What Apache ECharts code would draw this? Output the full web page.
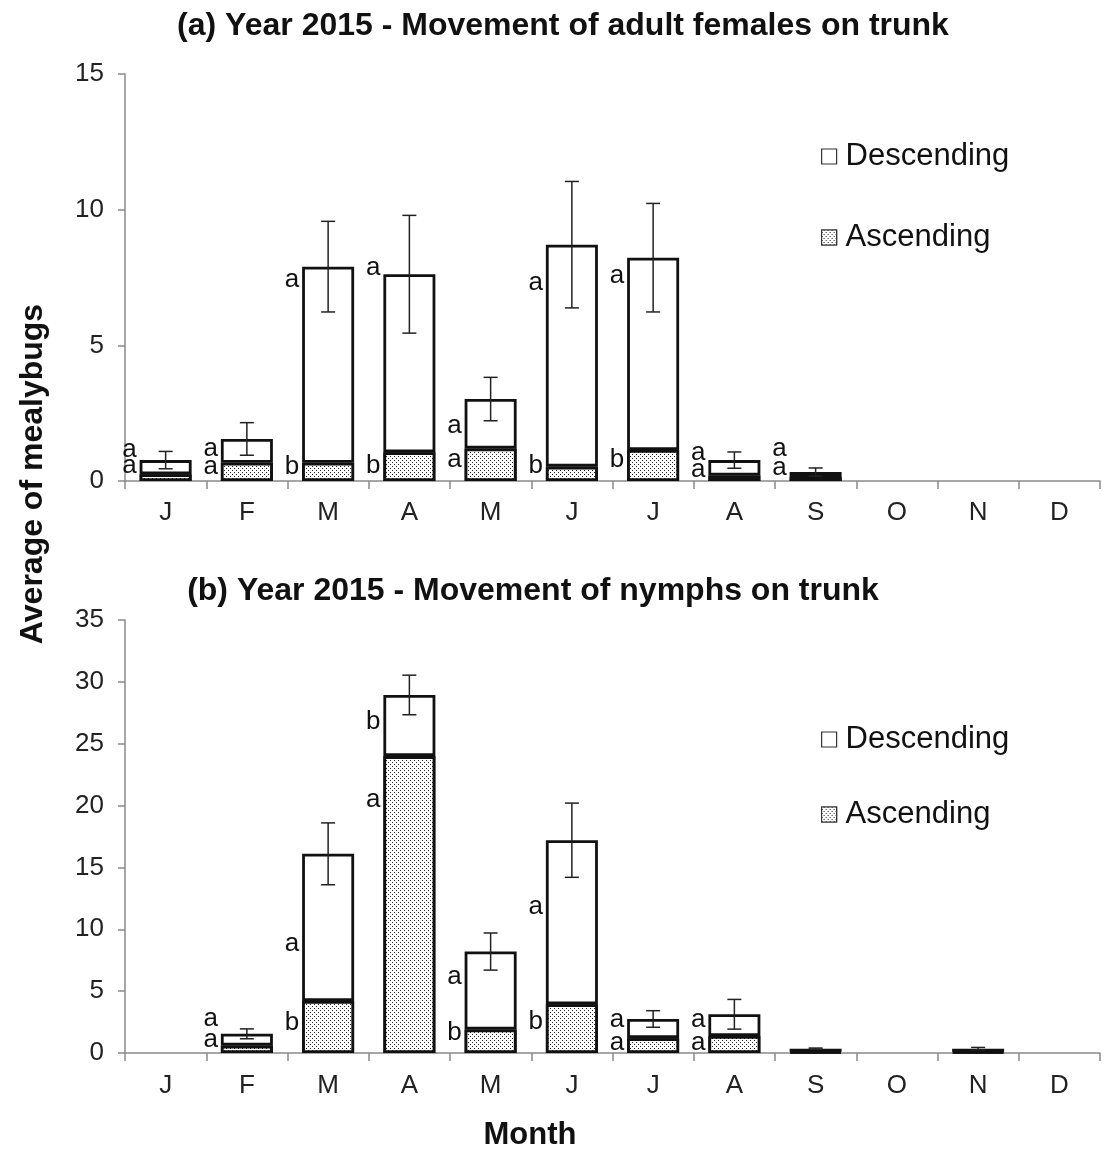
<!DOCTYPE html>
<html>
<head>
<meta charset="utf-8">
<script src="https://cdn.jsdelivr.net/npm/echarts@6/dist/echarts.min.js"></script>
<style>html,body{margin:0;padding:0;background:#fff;}#c{width:1105px;height:1153px;}</style>
</head>
<body>
<div id="c"></div>
<script>
// ---- data ----
const months = ['J','F','M','A','M','J','J','A','S','O','N','D'];
const yTicksTop = [0, 5, 10, 15];
const yTicksBottom = [0, 5, 10, 15, 20, 25, 30, 35];

// (a) adult females
const femAsc  = [0.25, 0.67, 0.67, 1.06, 1.20, 0.53, 1.14, 0.20, 0.15, null, null, null];
const femDesc = [0.52, 0.88, 7.23, 6.56, 1.82, 8.18, 7.09, 0.57, 0.18, null, null, null];
const femErr  = [0.32, 0.60, 1.67, 2.17, 0.80, 2.33, 2.00, 0.30, 0.15, null, null, null];
const femDescLetters = ['a','a','a','a','a','a','a','a','a', null, null, null];
const femAscLetters  = ['a','a','b','b','a','b','b','a','a', null, null, null];
const femDescLetterY = [1.14, 1.20, 7.40, 7.85, 2.03, 7.30, 7.55, 1.04, 1.20, null, null, null];
const femAscLetterY  = [0.55, 0.53, 0.53, 0.55, 0.77, 0.55, 0.77, 0.40, 0.50, null, null, null];

// (b) nymphs
const nymAsc  = [null, 0.60, 4.20, 24.00, 1.90, 3.94, 1.20, 1.37, 0.10, null, 0.10, null];
const nymDesc = [null, 0.95, 11.90, 4.94, 6.30, 13.26, 1.55, 1.76, 0.25, null, 0.25, null];
const nymErr  = [null, 0.40, 2.50, 1.60, 1.50, 3.00, 0.67, 1.20, 0.05, null, 0.10, null];
const nymDescLetters = [null,'a','a','b','a','a','a','a', null, null, null, null];
const nymAscLetters  = [null,'a','b','a','b','b','a','a', null, null, null, null];
const nymDescLetterY = [null, 2.75, 8.80, 26.80, 6.14, 11.80, 2.67, 2.67, null, null, null, null];
const nymAscLetterY  = [null, 1.05, 2.43, 20.45, 1.62, 2.50, 0.80, 0.80, null, null, null, null];

const titleA = '(a) Year 2015 - Movement of adult females on trunk';
const titleB = '(b) Year 2015 - Movement of nymphs on trunk';
const yName = 'Average of mealybugs';
const xName = 'Month';

// ---- styles ----
const FONT = 'Liberation Sans, Arial, sans-serif';
const dotDecal = {
  symbol: 'rect', symbolSize: 1, color: '#222', backgroundColor: '#fff',
  dashArrayX: [[1, 3], [0, 2, 1, 1]], dashArrayY: [1, 1], rotation: 0
};
const BAR_W = 0.64;

function errSeries(asc, desc, err, gi) {
  const data = [];
  for (let i = 0; i < months.length; i++) {
    if (err[i] == null) continue;
    data.push([i, (asc[i] || 0) + (desc[i] || 0), err[i]]);
  }
  return {
    type: 'custom', xAxisIndex: gi, yAxisIndex: gi, z: 10, silent: true,
    data: data,
    renderItem: function (params, api) {
      const x = api.value(0), t = api.value(1), e = api.value(2);
      const hi = api.coord([x, t + e]), lo = api.coord([x, t - e]);
      const cx = hi[0], w = 7;
      const st = { stroke: '#222', lineWidth: 1.5 };
      return { type: 'group', children: [
        { type: 'line', shape: { x1: cx, y1: hi[1], x2: cx, y2: lo[1] }, style: st },
        { type: 'line', shape: { x1: cx - w, y1: hi[1], x2: cx + w, y2: hi[1] }, style: st },
        { type: 'line', shape: { x1: cx - w, y1: lo[1], x2: cx + w, y2: lo[1] }, style: st }
      ]};
    }
  };
}

function letterSeries(letters, ys, gi) {
  const data = [], txt = [];
  for (let i = 0; i < months.length; i++) {
    if (!letters[i]) continue;
    data.push([i, ys[i]]); txt.push(letters[i]);
  }
  return {
    type: 'custom', xAxisIndex: gi, yAxisIndex: gi, z: 11, silent: true,
    data: data,
    renderItem: function (params, api) {
      const c = api.coord([api.value(0), api.value(1)]);
      const bw = api.size([1, 0])[0];
      return { type: 'text', style: {
        text: txt[params.dataIndex], x: c[0] - bw * BAR_W / 2 - 3, y: c[1],
        align: 'right', verticalAlign: 'middle',
        font: '26px ' + FONT, fill: '#111'
      }};
    }
  };
}

function barPair(asc, desc, gi, stack) {
  return [
    { name: 'Ascending', type: 'bar', stack: stack, xAxisIndex: gi, yAxisIndex: gi,
      barWidth: (BAR_W * 100) + '%', data: asc,
      itemStyle: { color: '#fff', borderColor: '#111', borderWidth: 2.8, decal: dotDecal } },
    { name: 'Descending', type: 'bar', stack: stack, xAxisIndex: gi, yAxisIndex: gi,
      barWidth: (BAR_W * 100) + '%', data: desc,
      itemStyle: { color: '#fff', borderColor: '#111', borderWidth: 2.8 } }
  ];
}

function xAxisCfg(gi, labelMargin) {
  return {
    type: 'category', gridIndex: gi, data: months, boundaryGap: true,
    axisLine: { lineStyle: { color: '#8a8a8a', width: 1.5 } },
    axisTick: { show: true, length: 8, lineStyle: { color: '#8a8a8a', width: 1.5 } },
    axisLabel: { fontSize: 26, color: '#222', fontFamily: FONT, margin: labelMargin, interval: 0 },
    splitLine: { show: false }
  };
}
function yAxisCfg(gi, ticks) {
  return {
    type: 'value', gridIndex: gi, min: ticks[0], max: ticks[ticks.length - 1],
    interval: ticks[1] - ticks[0],
    axisLine: { show: true, lineStyle: { color: '#8a8a8a', width: 1.5 } },
    axisTick: { show: true, length: 7, lineStyle: { color: '#8a8a8a', width: 1.5 } },
    axisLabel: { fontSize: 26, color: '#222', fontFamily: FONT, margin: 21 },
    splitLine: { show: false }
  };
}

const legendBase = {
  orient: 'vertical', left: 816, icon: 'rect', itemWidth: 15, itemHeight: 15,
  data: ['Descending', 'Ascending'], selectedMode: false,
  itemStyle: { borderWidth: 1.2, borderColor: '#333' },
  textStyle: { fontSize: 31, color: '#111', fontFamily: FONT, padding: [0, 0, 0, 4] }
};

const chart = echarts.init(document.getElementById('c'), null, { renderer: 'canvas' });
chart.setOption({
  animation: false,
  backgroundColor: '#fff',
  title: [
    { text: titleA, left: 558, top: 5, textAlign: 'center',
      textStyle: { fontSize: 32, fontWeight: 'bold', color: '#111', fontFamily: FONT } },
    { text: titleB, left: 528, top: 570, textAlign: 'center',
      textStyle: { fontSize: 32, fontWeight: 'bold', color: '#111', fontFamily: FONT } }
  ],
  legend: [
    Object.assign({}, legendBase, { top: 136, itemGap: 50 }),
    Object.assign({}, legendBase, { top: 719, itemGap: 44 })
  ],
  grid: [
    { left: 125, width: 975, top: 74, height: 407 },
    { left: 125, width: 975, top: 620, height: 433 }
  ],
  xAxis: [xAxisCfg(0, 19), xAxisCfg(1, 20)],
  yAxis: [yAxisCfg(0, yTicksTop), yAxisCfg(1, yTicksBottom)],
  graphic: [
    { type: 'text', x: 33, y: 474, rotation: Math.PI / 2,
      style: { text: yName, align: 'center', verticalAlign: 'middle',
               font: 'bold 32px ' + FONT, fill: '#111' } },
    { type: 'text', x: 530, y: 1135,
      style: { text: xName, align: 'center', verticalAlign: 'middle',
               font: 'bold 31px ' + FONT, fill: '#111' } }
  ],
  series: [].concat(
    barPair(femAsc, femDesc, 0, 'a'),
    barPair(nymAsc, nymDesc, 1, 'b'),
    [
      errSeries(femAsc, femDesc, femErr, 0),
      errSeries(nymAsc, nymDesc, nymErr, 1),
      letterSeries(femDescLetters, femDescLetterY, 0),
      letterSeries(femAscLetters, femAscLetterY, 0),
      letterSeries(nymDescLetters, nymDescLetterY, 1),
      letterSeries(nymAscLetters, nymAscLetterY, 1)
    ]
  )
});
</script>
</body>
</html>
